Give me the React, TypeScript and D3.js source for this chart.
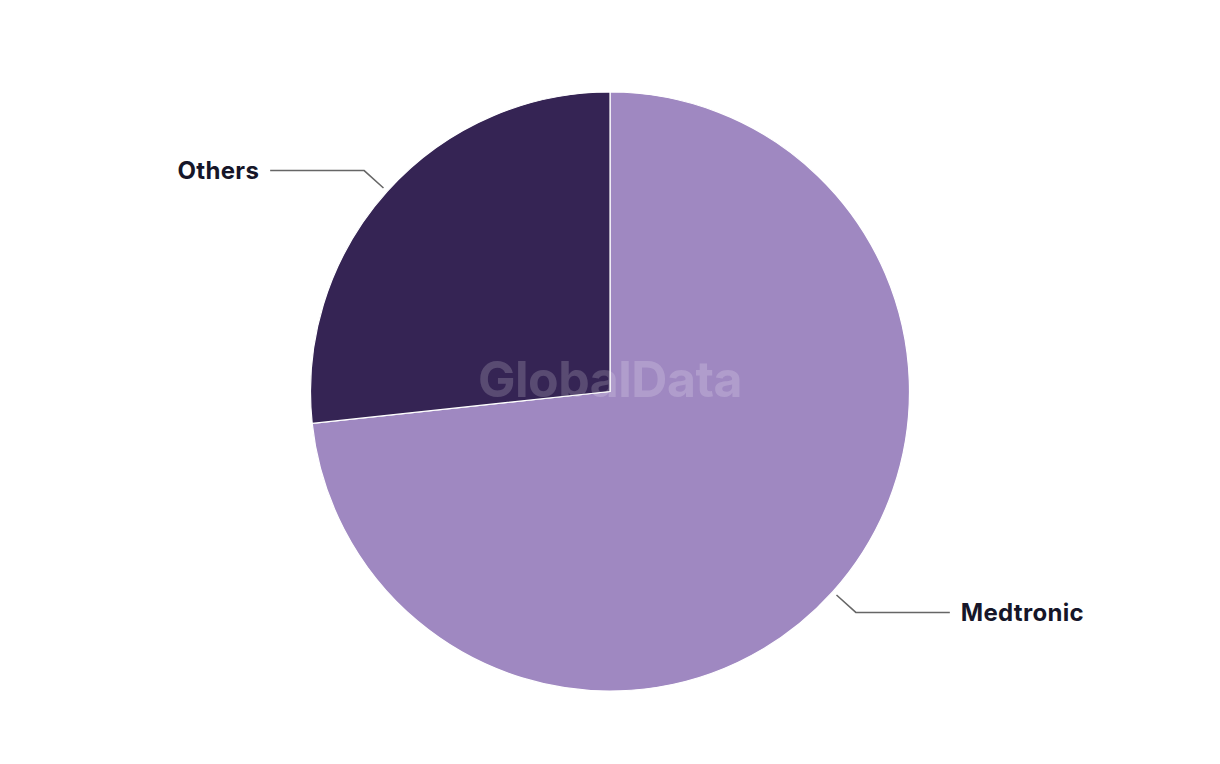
import React, { useEffect, useRef } from 'react';
import * as d3 from 'd3';

const categories = ['Medtronic', 'Others'];
const shares = [73.3, 26.7];
const colors = ['#9f88c1', '#352454'];

const App: React.FC = () => {
    const svgRef = useRef<SVGSVGElement>(null);

    useEffect(() => {
        if (!svgRef.current) return;
        const width = 1220;
        const height = 764;
        const cx = 610;
        const cy = 391.5;
        const radius = 299.5;

        const svg = d3.select(svgRef.current);
        svg.selectAll('*').remove();

        const data = categories.map((c, i) => ({ name: c, value: shares[i], color: colors[i] }));
        type D = typeof data[number];

        const pie = d3.pie<D>().value(d => d.value).sort(null);
        const arcs = pie(data);
        const arc = d3.arc<d3.PieArcDatum<D>>().innerRadius(0).outerRadius(radius);

        svg.attr('width', width).attr('height', height);
        const g = svg.append('g').attr('transform', `translate(${cx}, ${cy})`);

        g.selectAll('path.slice')
            .data(arcs)
            .enter()
            .append('path')
            .attr('class', 'slice')
            .attr('d', arc)
            .attr('fill', d => d.data.color)
            .attr('stroke', '#ffffff')
            .attr('stroke-width', 1.2)
            .attr('stroke-linejoin', 'round');

        // watermark
        g.append('text')
            .attr('x', 0)
            .attr('y', -8)
            .attr('text-anchor', 'middle')
            .attr('dominant-baseline', 'middle')
            .attr('font-family', 'Inter, "Liberation Sans", sans-serif')
            .attr('font-weight', 700)
            .attr('font-size', 50)
            .attr('letter-spacing', -0.5)
            .attr('fill', '#ffffff')
            .attr('fill-opacity', 0.18)
            .text('GlobalData');

        // leader lines + labels
        arcs.forEach(d => {
            const mid = (d.startAngle + d.endAngle) / 2;
            const sx = Math.sin(mid), sy = -Math.cos(mid);
            const p0 = [sx * (radius + 5), sy * (radius + 5)];
            const p1 = [sx * (radius + 31), sy * (radius + 31)];
            const right = sx > 0;
            const p2 = [p1[0] + (right ? 94 : -94), p1[1]];
            g.append('polyline')
                .attr('points', [p0, p1, p2].map(p => p.join(',')).join(' '))
                .attr('fill', 'none')
                .attr('stroke', '#666666')
                .attr('stroke-width', 1.5);
            g.append('text')
                .attr('x', p2[0] + (right ? 11 : -11))
                .attr('y', p2[1])
                .attr('dy', '0.35em')
                .attr('text-anchor', right ? 'start' : 'end')
                .attr('font-family', 'Inter, "Liberation Sans", sans-serif')
                .attr('font-weight', 700)
                .attr('font-size', 24)
                .attr('letter-spacing', 0.3)
                .attr('fill', '#161629')
                .text(d.data.name);
        });
    }, []);

    return (
        <svg ref={svgRef} style={{ position: 'absolute', left: 0, top: 0, background: '#ffffff' }}></svg>
    );
};

export default App;
